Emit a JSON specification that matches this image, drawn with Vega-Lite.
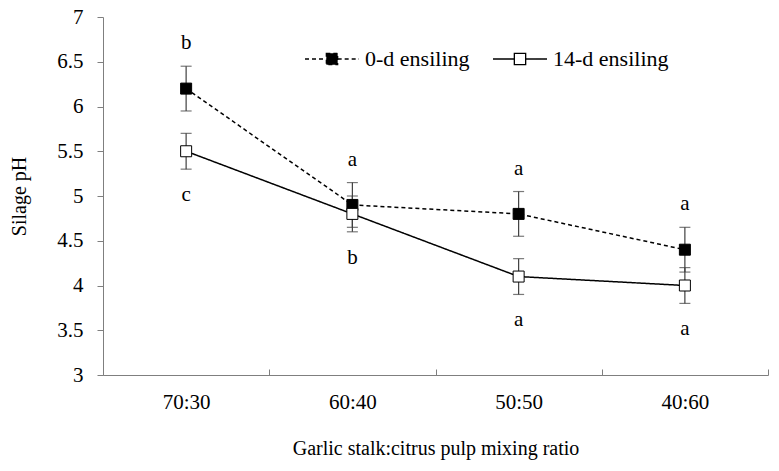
{
  "$schema": "https://vega.github.io/schema/vega-lite/v6.json",
  "width": 665,
  "height": 358,
  "padding": {"left": 103, "top": 17, "right": 11, "bottom": 96},
  "autosize": {"type": "none"},
  "background": "white",
  "config": {
    "view": {"stroke": null},
    "font": "Liberation Serif",
    "axis": {"labelFont": "Liberation Serif", "titleFont": "Liberation Serif", "labelFontSize": 21, "titleFontSize": 20, "titleFontWeight": "normal", "labelColor": "black", "titleColor": "black", "domainColor": "#7f7f7f", "tickColor": "#7f7f7f", "grid": false}
  },
  "data": {
    "values": [
      {"ratio": "70:30", "series": "0-d ensiling", "mean": 6.2, "lo": 5.95, "hi": 6.45, "letter": "b"},
      {"ratio": "60:40", "series": "0-d ensiling", "mean": 4.9, "lo": 4.65, "hi": 5.15, "letter": "a"},
      {"ratio": "50:50", "series": "0-d ensiling", "mean": 4.8, "lo": 4.55, "hi": 5.05, "letter": "a"},
      {"ratio": "40:60", "series": "0-d ensiling", "mean": 4.4, "lo": 4.15, "hi": 4.65, "letter": "a"},
      {"ratio": "70:30", "series": "14-d ensiling", "mean": 5.5, "lo": 5.3, "hi": 5.7, "letter": "c"},
      {"ratio": "60:40", "series": "14-d ensiling", "mean": 4.8, "lo": 4.6, "hi": 5.0, "letter": "b"},
      {"ratio": "50:50", "series": "14-d ensiling", "mean": 4.1, "lo": 3.9, "hi": 4.3, "letter": "a"},
      {"ratio": "40:60", "series": "14-d ensiling", "mean": 4.0, "lo": 3.8, "hi": 4.2, "letter": "a"}
    ]
  },
  "encoding": {
    "x": {"field": "ratio", "type": "nominal", "sort": null,
      "scale": {"type": "band", "paddingInner": 0, "paddingOuter": 0},
      "axis": {"title": "Garlic stalk:citrus pulp mixing ratio", "labelAngle": 0, "tickBand": "extent", "tickSize": -6, "labelPadding": 22, "titlePadding": 26}}
  },
  "layer": [
    {
      "mark": {"type": "rule", "color": "#404040", "strokeWidth": 1.2},
      "encoding": {
        "y": {"field": "lo", "type": "quantitative", "scale": {"domain": [3, 7]}, "axis": {"title": "Silage pH", "values": [3, 3.5, 4, 4.5, 5, 5.5, 6, 6.5, 7], "format": "~g", "tickSize": 6, "labelPadding": 14, "titlePadding": 27}},
        "y2": {"field": "hi"}
      }
    },
    {
      "mark": {"type": "tick", "color": "#404040", "size": 11, "thickness": 1.2},
      "encoding": {"y": {"field": "lo", "type": "quantitative"}}
    },
    {
      "mark": {"type": "tick", "color": "#404040", "size": 11, "thickness": 1.2},
      "encoding": {"y": {"field": "hi", "type": "quantitative"}}
    },
    {
      "mark": {"type": "line", "color": "black", "strokeWidth": 1.5},
      "encoding": {
        "y": {"field": "mean", "type": "quantitative"},
        "detail": {"field": "series"},
        "strokeDash": {"field": "series", "type": "nominal", "sort": ["0-d ensiling", "14-d ensiling"],
          "scale": {"domain": ["0-d ensiling", "14-d ensiling"], "range": [[4, 3], [1, 0]]},
          "legend": {"title": null, "orient": "none", "legendX": 201, "legendY": 14, "direction": "horizontal",
            "symbolType": "M-1,0H-0.21M0.21,0H1M-0.21,-0.21H0.21V0.21H-0.21Z",
            "symbolSize": 2916, "symbolStrokeColor": "black", "symbolStrokeWidth": 1.3,
            "labelFontSize": 22, "labelFont": "Liberation Serif", "labelColor": "black", "labelOffset": 5, "columnPadding": 20,
            "encode": {"symbols": {"update": {"fill": {"signal": "datum.value === '0-d ensiling' ? 'black' : 'white'"}, "stroke": {"value": "black"}}}}}
        }
      }
    },
    {
      "mark": {"type": "point", "shape": "square", "size": 121, "filled": true, "stroke": "black", "strokeWidth": 1, "opacity": 1},
      "encoding": {
        "y": {"field": "mean", "type": "quantitative"},
        "fill": {"field": "series", "type": "nominal", "scale": {"domain": ["0-d ensiling", "14-d ensiling"], "range": ["black", "white"]}, "legend": null}
      }
    },
    {
      "transform": [{"filter": "datum.series === '0-d ensiling'"}],
      "mark": {"type": "text", "fontSize": 21, "font": "Liberation Serif", "dy": -23, "color": "black"},
      "encoding": {"y": {"field": "hi", "type": "quantitative"}, "text": {"field": "letter"}}
    },
    {
      "transform": [{"filter": "datum.series === '14-d ensiling'"}],
      "mark": {"type": "text", "fontSize": 21, "font": "Liberation Serif", "dy": 26, "color": "black"},
      "encoding": {"y": {"field": "lo", "type": "quantitative"}, "text": {"field": "letter"}}
    }
  ]
}
